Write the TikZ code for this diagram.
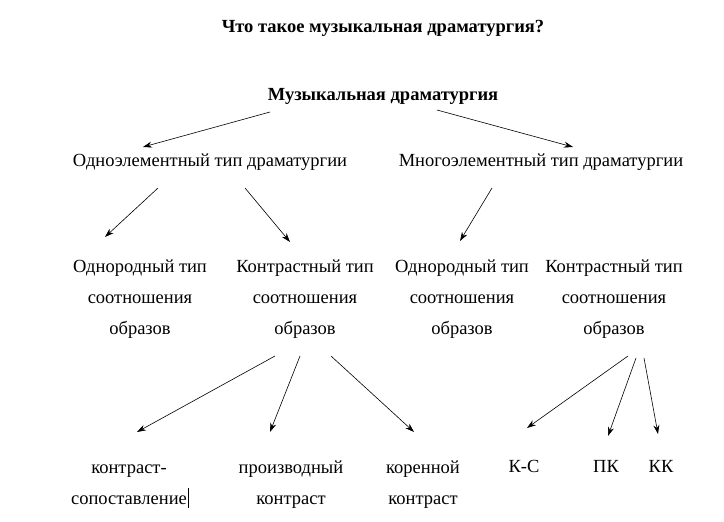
\documentclass[tikz,border=0pt]{standalone}
\usepackage{fontspec}
\setmainfont{Liberation Serif}
\usetikzlibrary{arrows.meta}
\begin{document}
\begin{tikzpicture}[x=1pt,y=-1pt,
  lbl/.style={font=\fontsize{18.5}{31}\selectfont,align=center,inner sep=0pt,anchor=base},
  arr/.style={-{Stealth[length=9pt,width=6pt]},line width=0.6pt}]
\useasboundingbox (0,0) rectangle (724,522);
\node[lbl,font=\bfseries\fontsize{18.5}{31}\selectfont] (t) at (383,32) {Что такое музыкальная драматургия?};
\node[lbl,font=\bfseries\fontsize{18.5}{31}\selectfont] (m) at (383,100) {Музыкальная драматургия};
\node[lbl] (o) at (210,166) {Одноэлементный тип драматургии};
\node[lbl] (g) at (541,166) {Многоэлементный тип драматургии};
\node[lbl] (a1) at (140,334) {Однородный тип\\соотношения\\образов};
\node[lbl] (a2) at (305,334) {Контрастный тип\\соотношения\\образов};
\node[lbl] (a3) at (462,334) {Однородный тип\\соотношения\\образов};
\node[lbl] (a4) at (614,334) {Контрастный тип\\соотношения\\образов};
\node[lbl] (b1) at (129,504) {контраст-\\сопоставление};
\node[lbl] (b2) at (291,504) {производный\\контраст};
\node[lbl] (b3) at (423,504) {коренной\\контраст};
\node[lbl] (b4) at (524,472) {К-С};
\node[lbl] (b5) at (606,472) {ПК};
\node[lbl] (b6) at (661,472) {КК};
\draw[line width=0.4pt] (188,488) -- (188,508);
\foreach \n/\a/\b/\c/\d in {p1/270/112/143/147, p2/437/110/573/147, p3/158/188/105/237, p4/245/188/290/242, p5/492/188/460/241, p6/275/356/137/432, p7/300/356/270/432, p8/331/356/414/432, p9/628/356/527/428, p10/636/358/608/436, p11/644/358/658/434}{
  \coordinate (\n s) at (\a,\b); \coordinate (\n e) at (\c,\d);
  \draw[arr] (\n s) -- (\n e);}
\end{tikzpicture}
\end{document}
